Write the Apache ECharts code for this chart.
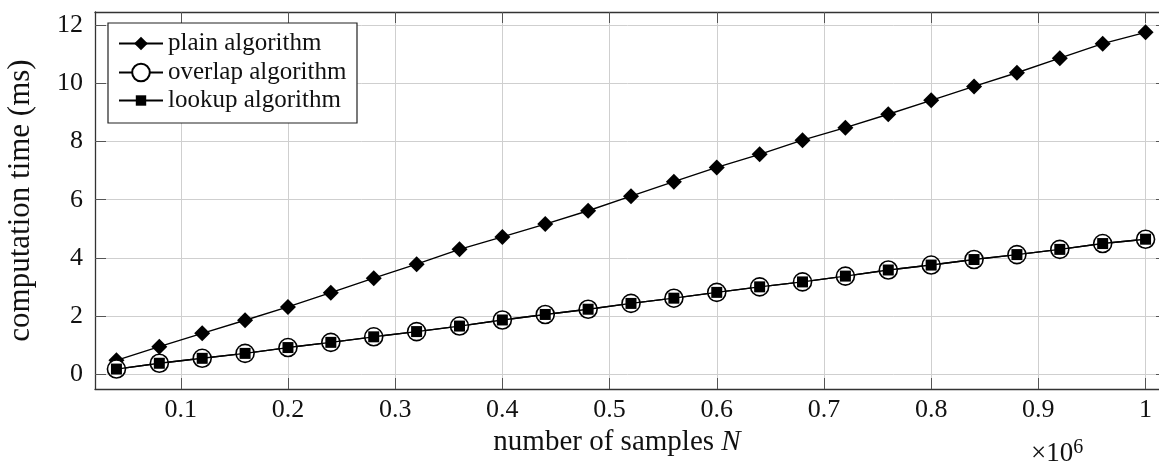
<!DOCTYPE html>
<html>
<head>
<meta charset="utf-8">
<script src="https://cdn.jsdelivr.net/npm/echarts@6/dist/echarts.min.js"></script>
<style>
  html, body { margin: 0; padding: 0; background: #fff; overflow: hidden; }
  #chart { width: 1159px; height: 465px; }
</style>
</head>
<body>
<div id="chart"></div>
<script>
// ---- data ----
const samplesN = [0.04, 0.08, 0.12, 0.16, 0.20, 0.24, 0.28, 0.32, 0.36, 0.40, 0.44, 0.48, 0.52,
                  0.56, 0.60, 0.64, 0.68, 0.72, 0.76, 0.80, 0.84, 0.88, 0.92, 0.96, 1.00];
const plainTime = [0.47, 0.94, 1.40, 1.85, 2.31, 2.80, 3.30, 3.78, 4.29, 4.72, 5.16, 5.62, 6.12,
                   6.62, 7.11, 7.56, 8.05, 8.48, 8.94, 9.42, 9.90, 10.37, 10.87, 11.37, 11.76];
const overlapTime = [0.17, 0.37, 0.54, 0.71, 0.91, 1.09, 1.28, 1.46, 1.65, 1.86, 2.05, 2.23, 2.43,
                     2.61, 2.81, 3.00, 3.17, 3.37, 3.58, 3.75, 3.94, 4.11, 4.29, 4.49, 4.64];
const lookupTime = [0.17, 0.37, 0.54, 0.71, 0.91, 1.09, 1.28, 1.46, 1.65, 1.86, 2.05, 2.23, 2.43,
                    2.61, 2.81, 3.00, 3.17, 3.37, 3.58, 3.75, 3.94, 4.11, 4.29, 4.49, 4.64];
const xTicks = [0.1, 0.2, 0.3, 0.4, 0.5, 0.6, 0.7, 0.8, 0.9, 1];
const yTicks = [0, 2, 4, 6, 8, 10, 12];
const seriesNames = ['plain algorithm', 'overlap algorithm', 'lookup algorithm'];

const pair = (ys) => samplesN.map((x, i) => [x, ys[i]]);
const FONT = '"Liberation Serif", "Times New Roman", serif';
const INK = '#111';
const axisLineStyle = { color: '#333', width: 1.3 };
const tickStyle = { color: '#555', width: 1 };

const chart = echarts.init(document.getElementById('chart'), null, { renderer: 'canvas' });

const legendText = { fontFamily: FONT, fontSize: 25, color: INK, lineHeight: 24 };
function legendFor(name, top, h) {
  return {
    data: [name], left: 118, top: top, orient: 'vertical', padding: 0,
    itemWidth: 44, itemHeight: h, textStyle: legendText, selectedMode: false
  };
}

chart.setOption({
  animation: false,
  backgroundColor: '#fff',
  grid: { left: 95, top: 12, width: 1072, bottom: 76, containLabel: false, outerBoundsMode: 'none' },
  xAxis: [{
    type: 'value', min: 0.02, max: 1.02, position: 'bottom',
    axisLine: { show: true, onZero: false, lineStyle: axisLineStyle },
    axisTick: { show: true, inside: true, length: 11, customValues: xTicks, lineStyle: tickStyle },
    axisLabel: { customValues: xTicks, margin: 8, fontFamily: FONT, fontSize: 26, color: INK },
    splitLine: { show: true, lineStyle: { color: '#cfcfcf', width: 1 } },
    name: 'number of samples {i|N}', nameLocation: 'middle', nameGap: 39,
    nameTextStyle: {
      fontFamily: FONT, fontSize: 29, color: INK, padding: [0, 28, 0, 0],
      rich: { i: { fontFamily: FONT, fontSize: 29, fontStyle: 'italic', color: INK } }
    }
  }, {
    type: 'value', min: 0.02, max: 1.02, position: 'top',
    axisLine: { show: true, onZero: false, lineStyle: axisLineStyle },
    axisTick: { show: true, inside: true, length: 11, customValues: xTicks, lineStyle: tickStyle },
    axisLabel: { show: false },
    splitLine: { show: false }
  }],
  yAxis: [{
    type: 'value', min: -0.516, max: 12.46, position: 'left',
    axisLine: { show: true, onZero: false, lineStyle: axisLineStyle },
    axisTick: { show: true, inside: true, length: 11, customValues: yTicks, lineStyle: tickStyle },
    axisLabel: { customValues: yTicks, margin: 12, fontFamily: FONT, fontSize: 26, color: INK },
    splitLine: { show: true, lineStyle: { color: '#cfcfcf', width: 1 } },
    name: 'computation time (ms)', nameLocation: 'middle', nameGap: 59,
    nameTextStyle: { fontFamily: FONT, fontSize: 31, color: INK }
  }, {
    type: 'value', min: -0.516, max: 12.46, position: 'right',
    axisLine: { show: true, onZero: false, lineStyle: axisLineStyle },
    axisTick: { show: true, inside: true, length: 11, customValues: yTicks, lineStyle: tickStyle },
    axisLabel: { show: false },
    splitLine: { show: false }
  }],
  legend: [
    legendFor(seriesNames[0], 31, 17),
    legendFor(seriesNames[1], 60, 22),
    legendFor(seriesNames[2], 88, 13)
  ],
  graphic: [{
    type: 'rect', z: 3, shape: { x: 108, y: 23, width: 249, height: 100 },
    style: { fill: '#fff', stroke: '#222', lineWidth: 1.2 }
  }, {
    type: 'text', left: 1031, top: 438, z: 5,
    style: {
      text: '×10{s|6}', fontFamily: FONT, fontSize: 27, fill: INK,
      rich: { s: { fontFamily: FONT, fontSize: 20, fill: INK, verticalAlign: 'top', padding: [0, 0, 12, 0] } }
    }
  }],
  series: [{
    name: seriesNames[0], type: 'line', data: pair(plainTime),
    symbol: 'diamond', symbolSize: 16, showAllSymbol: true,
    lineStyle: { color: '#000', width: 1.4 },
    itemStyle: { color: '#000', borderColor: '#000', borderWidth: 0 },
    z: 2
  }, {
    name: seriesNames[1], type: 'line', data: pair(overlapTime),
    symbol: 'circle', symbolSize: 18, showAllSymbol: true,
    lineStyle: { color: '#000', width: 1.4 },
    itemStyle: { color: '#fff', borderColor: '#000', borderWidth: 1.6 },
    z: 3
  }, {
    name: seriesNames[2], type: 'line', data: pair(lookupTime),
    symbol: 'rect', symbolSize: 11, showAllSymbol: true,
    lineStyle: { color: '#000', width: 1.4 },
    itemStyle: { color: '#000', borderColor: '#000', borderWidth: 0 },
    z: 4
  }]
});
</script>
</body>
</html>
